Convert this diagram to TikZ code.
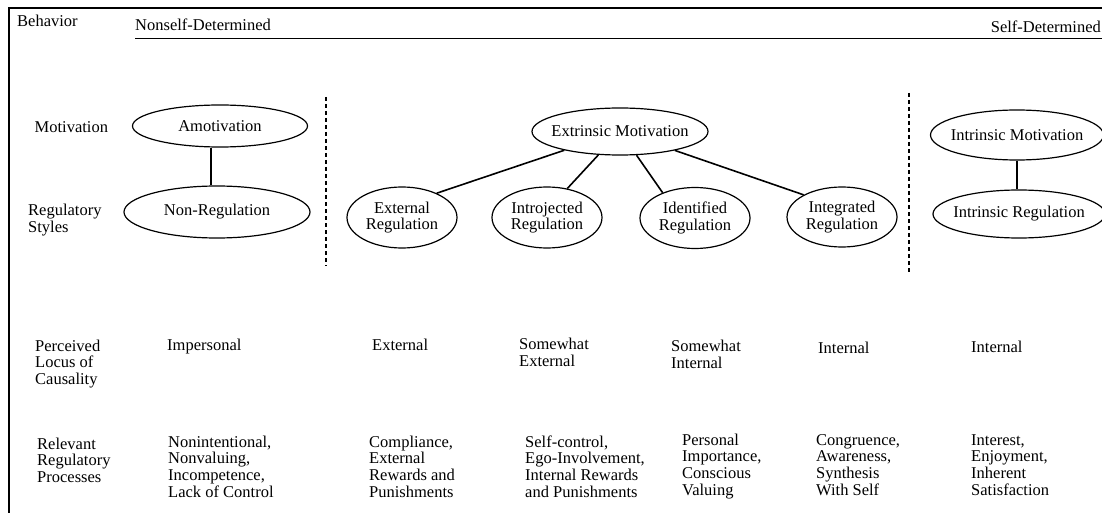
\documentclass[tikz,border=0pt]{standalone}
\usepackage{fontspec}
\setmainfont{Liberation Serif}
\usetikzlibrary{shapes.geometric}
\begin{document}
\begin{tikzpicture}[x=1pt,y=-1pt,
  every node/.style={font=\fontsize{16.5}{16.6}\selectfont, inner sep=0pt},
  oval/.style={draw, ellipse, line width=1.2pt},
  txt/.style={anchor=base west, align=left},
  link/.style={line width=1.6pt},
  thinlink/.style={line width=1.2pt},
  rule/.style={line width=1.4pt},
  sep/.style={line width=1.4pt, dash pattern=on 4pt off 3pt}]
\useasboundingbox (0,0) rectangle (1102,513);

% frame and header
\coordinate (tl) at (9,8);
\coordinate (tr) at (1102,8);
\coordinate (bl) at (9,513);
\draw[rule] (tr) -- (tl) -- (bl);
\coordinate (ul) at (135,38.5);
\coordinate (ur) at (1102,38.5);
\draw[rule] (ul) -- (ur);
\node[txt] (behav) at (17,27) {Behavior};
\node[txt] (nonself) at (135,31) {Nonself-Determined};
\node[anchor=base east] (selfdet) at (1101,33) {Self-Determined};

% separators
\coordinate (d1t) at (326,97);
\coordinate (d1b) at (326,266);
\coordinate (d2t) at (909,93);
\coordinate (d2b) at (909,272);
\draw[sep] (d1t) -- (d1b);
\draw[sep] (d2t) -- (d2b);

% row labels (base = baseline of last line)
\node[txt] (lmot) at (34.5,133) {Motivation};
\node[txt] (lreg) at (28,232.5) {Regulatory\\Styles};
\node[txt] (lloc) at (35,384.5) {Perceived\\Locus of\\Causality};
\node[txt] (lproc) at (37,482.5) {Relevant\\Regulatory\\Processes};

% ellipses
\node[oval, minimum width=175, minimum height=42, label={center:Amotivation}] (amot) at (220,126) {};
\node[oval, minimum width=186, minimum height=52, label={center:Non-Regulation}] (nonreg) at (217,212) {};
\node[oval, minimum width=176, minimum height=47, label={center:Extrinsic Motivation}] (em) at (620,131.5) {};
\node[oval, minimum width=110, minimum height=61, label={[align=center]center:External\\Regulation}] (ext) at (402,217.5) {};
\node[oval, minimum width=110, minimum height=61, label={[align=center]center:Introjected\\Regulation}] (intro) at (547,217.5) {};
\node[oval, minimum width=110, minimum height=61, label={[align=center]center:Identified\\Regulation}] (ident) at (695,218) {};
\node[oval, minimum width=110, minimum height=60, label={[align=center]center:Integrated\\Regulation}] (integ) at (842,217) {};
\node[oval, minimum width=173, minimum height=50, label={center:Intrinsic Motivation}] (im) at (1017,135) {};
\node[oval, minimum width=172, minimum height=48, label={center:Intrinsic Regulation}] (ir) at (1019,214) {};

% connectors
\draw[thinlink] ([xshift=-9pt]amot.south) -- ([xshift=-6pt]nonreg.north);
\draw[link] (em) -- (ext.35);
\draw[link] (em) -- (intro.55);
\draw[link] (em) -- (ident.142);
\draw[link] (em) -- (integ.150);
\draw[thinlink] (im.south) -- (im.south |- ir.north);

% locus row
\node[txt] (c1) at (167,350) {Impersonal};
\node[txt] (c2) at (372,350) {External};
\node[txt] (c3) at (519,366.5) {Somewhat\\External};
\node[txt] (c4) at (671,368.5) {Somewhat\\Internal};
\node[txt] (c5) at (818,353) {Internal};
\node[txt] (c6) at (971,352) {Internal};

% processes row
\node[txt] (p1) at (168,497) {Nonintentional,\\Nonvaluing,\\Incompetence,\\Lack of Control};
\node[txt] (p2) at (369,497) {Compliance,\\External\\Rewards and\\Punishments};
\node[txt] (p3) at (525,497) {Self-control,\\Ego-Involvement,\\Internal Rewards\\and Punishments};
\node[txt] (p4) at (682,495) {Personal\\Importance,\\Conscious\\Valuing};
\node[txt] (p5) at (816,495) {Congruence,\\Awareness,\\Synthesis\\With Self};
\node[txt] (p6) at (971,495) {Interest,\\Enjoyment,\\Inherent\\Satisfaction};
\end{tikzpicture}
\end{document}
